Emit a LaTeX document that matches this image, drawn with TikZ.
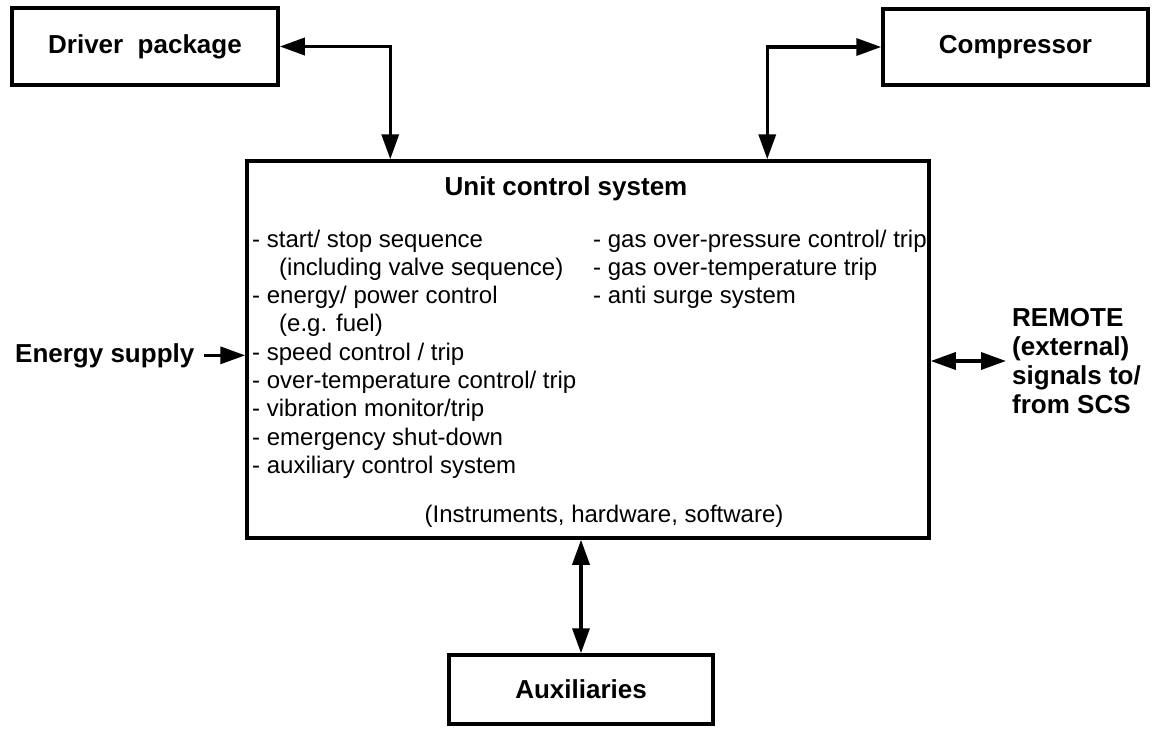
\documentclass[tikz,border=0pt]{standalone}
\usepackage{fontspec}
\setmainfont{Liberation Sans}
\usetikzlibrary{arrows.meta}
\begin{document}
\begin{tikzpicture}[x=1pt,y=-1pt,
  box/.style={draw,line width=3.5pt,inner sep=0pt,
    font=\bfseries\fontsize{26}{29}\selectfont},
  lbl/.style={inner sep=0pt,align=left,
    font=\bfseries\fontsize{26}{29}\selectfont},
  txt/.style={inner sep=0pt,align=left,
    font=\fontsize{24}{28.3}\selectfont},
  tip/.tip={Triangle[length=25pt,width=17pt]},
  link/.style={line width=3.5pt,tip-tip},
  feed/.style={line width=3.5pt,-tip}]
\useasboundingbox (0,0) rectangle (1156,728);

% blocks
\node[box,minimum width=266pt,minimum height=77pt] (drv) at (145,46.5) {Driver\ \ package};
\node[box,minimum width=265pt,minimum height=76pt] (cmp) at (1015.5,47) {Compressor};
\node[box,minimum width=682pt,minimum height=377pt] (ucs) at (588,349.5) {};
\node[box,minimum width=264pt,minimum height=69pt] (aux) at (581,689.5) {Auxiliaries};

% contents of the unit control system (multi-line nodes sit on their last baseline)
\node[lbl,anchor=base] (title) at (566,195) {Unit control system};
\node[txt,anchor=base west] (lcol) at (252,473.4) {- start/ stop sequence\\
\hspace*{27pt}(including valve sequence)\\
- energy/ power control\\
\hspace*{27pt}(e.g. fuel)\\
- speed control / trip\\
- over-temperature control/ trip\\
- vibration monitor/trip\\
- emergency shut-down\\
- auxiliary control system};
\node[txt,anchor=base west] (rcol) at (593,303.6) {- gas over-pressure control/ trip\\
- gas over-temperature trip\\
- anti surge system};
\node[txt,anchor=base] (hw) at (604,522) {(Instruments, hardware, software)};

% side labels
\node[lbl,anchor=base west] (en) at (15,362) {Energy supply};
\node[lbl,anchor=base west] (rem) at (1012,413) {REMOTE\\(external)\\signals to/\\from SCS};
\coordinate (rc) at (1006,361);

% connectors
\draw[link] (drv.east) -| ([xshift=145pt]ucs.north west);
\draw[link] ([xshift=522pt]ucs.north west) |- (cmp.west);
\draw[link] (ucs.south -| aux.north) -- (aux.north);
\draw[feed] ([xshift=9pt]en.east) -- (en.east -| ucs.west);
\draw[link] (ucs.east |- rc) -- (rc);
\end{tikzpicture}
\end{document}
